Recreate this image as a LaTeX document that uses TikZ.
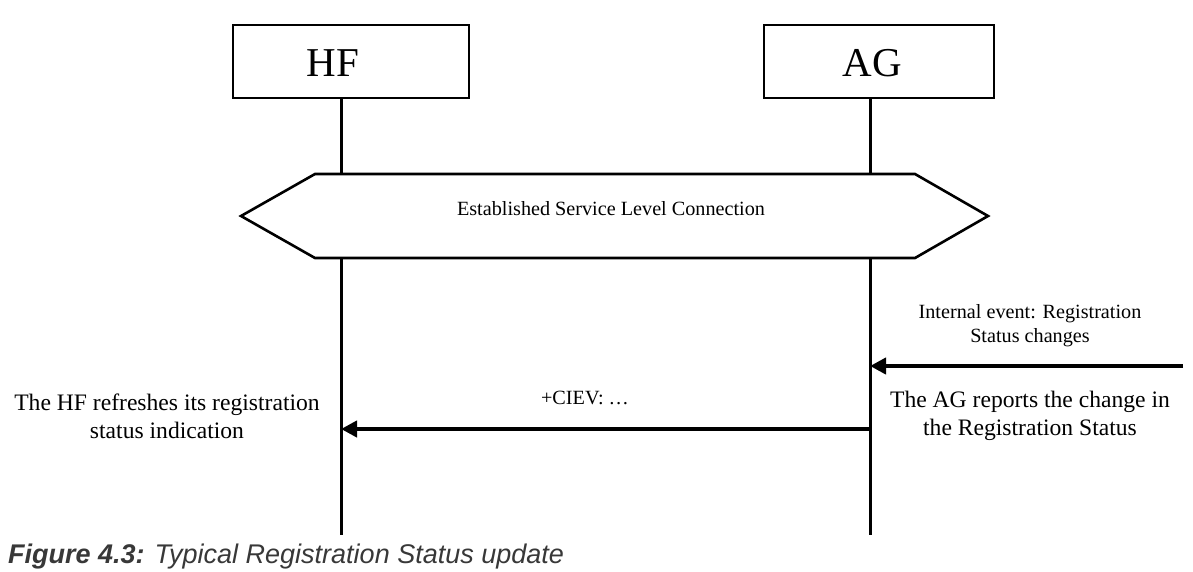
\documentclass[tikz,border=0pt]{standalone}
\usepackage{fontspec}
\setmainfont{Liberation Serif}
\newfontfamily\capfont{Liberation Sans}
\usetikzlibrary{arrows.meta}
\begin{document}
\begin{tikzpicture}[x=1pt, y=-1pt,
    box/.style={draw, line width=1.5pt},
    entity/.style={inner sep=0pt, font=\fontsize{41}{41}\selectfont},
    life/.style={line width=3pt},
    msg/.style={line width=4.4pt, -{Triangle[length=16pt,width=16pt]}},
    small/.style={align=center, font=\fontsize{20.2}{24}\selectfont},
    big/.style={align=center, font=\fontsize{23.6}{28}\selectfont}]
    \useasboundingbox (0,0) rectangle (1193,571);

    % entities
    \draw[box] (233,25) rectangle (469,98);
    \draw[box] (764,25) rectangle (994,98);
    \node[entity] (hf) at (333,63) {HF};
    \node[entity] (ag) at (872,63) {AG};

    % lifelines
    \foreach \x in {341,870} \draw[life] (\x,98) -- (\x,174) (\x,258) -- (\x,535);

    % service level connection
    \draw[line width=2.6pt] (241,216) -- (315,174) -- (915,174) -- (988,216) -- (915,258) -- (315,258) -- cycle;
    \node[small] (slc) at (611,209) {Established Service Level Connection};

    % messages
    \coordinate (ext) at (1183,366);
    \coordinate (agev) at (870,366);
    \coordinate (agout) at (870,429);
    \coordinate (hfin) at (341,429);
    \draw[msg] (ext) -- (agev);
    \draw[msg] (agout) -- (hfin);

    \node[small] (event) at (1030,326) {Internal event: Registration\\Status changes};
    \node[small] (ciev) at (585,398) {+CIEV: \dots};
    \node[big] (agnote) at (1030,416) {The AG reports the change in\\the Registration Status};
    \node[big] (hfnote) at (167,416) {The HF refreshes its registration\\status indication};

    % caption
    \node[anchor=base west, inner sep=0pt, text=black!78, font=\capfont\fontsize{27}{27}\selectfont] (cap) at (8,563)
        {\textbf{\textit{Figure 4.3:}} \textit{Typical Registration Status update}};
\end{tikzpicture}
\end{document}
